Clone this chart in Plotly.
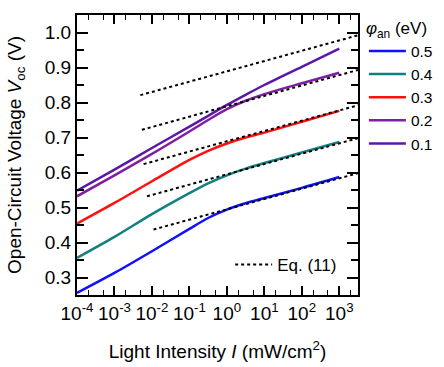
import plotly.graph_objects as go

# Data
intensity = [1e-4, 1e-3, 1e-2, 1e-1, 10**-0.5, 1e0, 10**0.5, 1e1, 1e2, 1e3]
phi_labels = ["0.5", "0.4", "0.3", "0.2", "0.1"]
voc_05 = [0.256, 0.313, 0.375, 0.439, 0.470, 0.494, 0.512, 0.527, 0.556, 0.587]
voc_04 = [0.356, 0.416, 0.481, 0.541, 0.569, 0.592, 0.611, 0.627, 0.657, 0.687]
voc_03 = [0.454, 0.513, 0.575, 0.636, 0.662, 0.683, 0.700, 0.714, 0.745, 0.776]
voc_02 = [0.532, 0.592, 0.653, 0.717, 0.750, 0.781, 0.805, 0.824, 0.855, 0.885]
voc_01 = [0.548, 0.608, 0.670, 0.731, 0.762, 0.793, 0.822, 0.850, 0.902, 0.954]
colors = ["#1010ff", "#108080", "#ff1010", "#8020a0", "#5a18a8"]

# Eq. (11) straight lines: (start intensity, end intensity), (start V, end V)
eq_x = [[4.9e-3, 3.16e3], [5.4e-3, 3.16e3], [6.0e-3, 3.16e3], [7.4e-3, 3.16e3], [1.1e-2, 3.16e3]]
eq_y = [[0.821, 0.992], [0.722, 0.893], [0.624, 0.792], [0.532, 0.698], [0.437, 0.598]]

xtick_vals = [1e-4, 1e-3, 1e-2, 1e-1, 1e0, 1e1, 1e2, 1e3]
xtick_text = ["10<sup>-4</sup>", "10<sup>-3</sup>", "10<sup>-2</sup>", "10<sup>-1</sup>",
              "10<sup>0</sup>", "10<sup>1</sup>", "10<sup>2</sup>", "10<sup>3</sup>"]
ytick_vals = [0.3, 0.4, 0.5, 0.6, 0.7, 0.8, 0.9, 1.0]
ytick_text = ["0.3", "0.4", "0.5", "0.6", "0.7", "0.8", "0.9", "1.0"]

FONT = "Liberation Sans, Arial, Helvetica, sans-serif"
FS = 19
LFS = 15.5

fig = go.Figure()
for lab, ys, c in zip(phi_labels, [voc_05, voc_04, voc_03, voc_02, voc_01], colors):
    fig.add_trace(go.Scatter(x=intensity, y=ys, mode="lines", name=lab,
                             line=dict(color=c, width=2.5, shape="spline", smoothing=0.8),
                             legend="legend"))
for i, (xs, ys) in enumerate(zip(eq_x, eq_y)):
    fig.add_trace(go.Scatter(x=xs, y=ys, mode="lines", name="Eq. (11)",
                             line=dict(color="black", width=2, dash="dot"),
                             showlegend=(i == 0), legend="legend2"))

axis_common = dict(showline=True, linecolor="black", linewidth=2, mirror="allticks",
                   ticks="inside", tickcolor="black", tickwidth=1.5,
                   showgrid=False, zeroline=False,
                   tickfont=dict(family=FONT, size=FS, color="black"))

fig.update_xaxes(type="log", range=[-4, 3.5], tickvals=xtick_vals, ticktext=xtick_text,
                 ticklen=9, tickangle=0,
                 minor=dict(ticks="inside", ticklen=5, tickcolor="black", tickwidth=1,
                            showgrid=False),
                 title=dict(text="Light Intensity <i>I</i> (mW/cm<sup>2</sup>)",
                            font=dict(family=FONT, size=FS, color="black"), standoff=22),
                 **axis_common)
fig.update_yaxes(range=[0.25, 1.05], tickvals=ytick_vals, ticktext=ytick_text,
                 ticklen=11,
                 minor=dict(ticks="inside", ticklen=7, tickcolor="black", tickwidth=1.5,
                            dtick=0.05, tick0=0.25, showgrid=False),
                 title=dict(text="Open-Circuit Voltage <i>V</i><sub>oc</sub> (V)",
                            font=dict(family=FONT, size=FS, color="black"), standoff=18),
                 **axis_common)

fig.update_layout(
    width=444, height=367,
    margin=dict(l=77, r=86, t=15, b=72, autoexpand=False),
    paper_bgcolor="white", plot_bgcolor="white",
    font=dict(family=FONT, size=FS, color="black"),
    legend=dict(x=1.021, y=1.01, xanchor="left", yanchor="top",
                title=dict(text="<i>φ</i><sub>an</sub> (eV)", font=dict(family=FONT, size=17)),
                font=dict(family=FONT, size=LFS), tracegroupgap=0, itemwidth=37,
                bgcolor="rgba(0,0,0,0)"),
    legend2=dict(x=0.545, y=0.107, xanchor="left", yanchor="middle",
                 font=dict(family=FONT, size=17), itemwidth=37,
                 bgcolor="rgba(0,0,0,0)"),
    showlegend=True,
)

fig.write_html("out.html")
